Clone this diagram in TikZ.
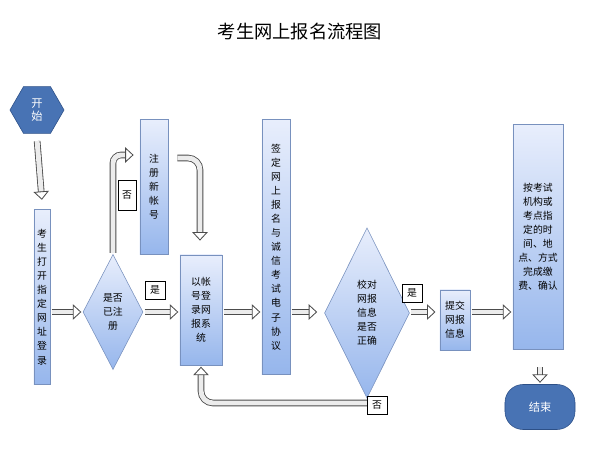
\documentclass[tikz,border=0pt]{standalone}
\usepackage{fontspec}
\setmainfont{Noto Sans CJK SC}
\usetikzlibrary{shapes.geometric,arrows.meta}
\definecolor{boxtop}{RGB}{232,238,252}
\definecolor{boxbot}{RGB}{150,182,236}
\definecolor{boxline}{RGB}{120,145,190}
\definecolor{capblue}{RGB}{72,115,180}
\definecolor{capline}{RGB}{45,80,135}
\tikzset{
  box/.style={draw=boxline,top color=boxtop,bottom color=boxbot,inner sep=1pt,align=center,font=\fontsize{7}{10}\selectfont},
  dia/.style={diamond,draw=boxline,top color=boxtop,bottom color=boxbot,inner sep=0pt,align=center,font=\fontsize{7}{10}\selectfont},
  tag/.style={draw,fill=white,inner sep=1pt,font=\fontsize{7}{9}\selectfont},
  blk/.style={draw=gray!60!black,double=gray!15,double distance=3.5pt,line width=0.6pt,-{Triangle[open,length=6pt,width=11pt]},shorten >=1pt,shorten <=1pt}
}
\begin{document}
\begin{tikzpicture}[x=0.025cm,y=-0.025cm]
	\useasboundingbox (0,0) rectangle (601,452);
	\draw (300,32) node [font=\fontsize{13}{15}\selectfont] (title) {考生网上报名流程图};
	\draw (37,110) node [regular polygon,regular polygon sides=6,draw=capline,fill=capblue,text=white,minimum size=1.35cm,inner sep=0pt,font=\fontsize{8}{9}\selectfont,align=center] (start) {开\\始};
	\draw (42,297) node [box,minimum width=0.4cm,minimum height=4.375cm] (open) {考\\生\\打\\开\\指\\定\\网\\址\\登\\录};
	\draw (113,312) node [dia,minimum width=1.5cm,minimum height=2.875cm] (reg) {是否\\已注\\册};
	\draw (154,187) node [box,minimum width=0.7cm,minimum height=3.375cm] (new) {注\\册\\新\\帐\\号};
	\draw (201,310) node [box,minimum width=1.05cm,minimum height=2.75cm] (login) {以帐\\号登\\录网\\报系\\统};
	\draw (276,247) node [box,minimum width=0.7cm,minimum height=6.375cm] (sign) {签\\定\\网\\上\\报\\名\\与\\诚\\信\\考\\试\\电\\子\\协\\议};
	\draw (367,313) node [dia,minimum width=1.875cm,minimum height=4.25cm] (check) {校对\\网报\\信息\\是否\\正确};
	\draw (455,320) node [box,minimum width=0.75cm,minimum height=1.5cm] (submit) {提交\\网报\\信息};
	\draw (538,237) node [box,minimum width=1.25cm,minimum height=5.625cm] (pay) {按考试\\机构或\\考点指\\定的时\\间、地\\点、方式\\完成缴\\费、确认};
	\draw (540,407) node [draw=capline,fill=capblue,text=white,rounded corners=0.45cm,minimum width=1.75cm,minimum height=1.125cm,font=\fontsize{8}{9}\selectfont] (end) {结束};
	\coordinate (row) at (0,312);
	\coordinate (regup) at (135,155);
	\coordinate (newout) at (176,158);
	\coordinate (newdown) at (200,242);
	\coordinate (checkout) at (370,403);
	\coordinate (payout) at (540,366);
	\draw[blk] ([yshift=-0.15cm]start.south) -- ([yshift=0.2cm]open.north);
	\draw[blk] (open.east |- row) -- (reg.west);
	\draw[blk] (reg.east) -- (login.west |- row);
	\draw[blk] (login.east |- row) -- (sign.west |- row);
	\draw[blk] (sign.east |- row) -- ([xshift=-4pt]check.west |- row);
	\draw[blk] (check.east |- row) -- ([xshift=-2pt]submit.west |- row);
	\draw[blk] (submit.east |- row) -- (pay.west |- row);
	\draw[blk] (payout) -- (end.north);
	\draw[blk,rounded corners=0.2cm] (reg.north) |- (regup);
	\draw[blk,rounded corners=0.3cm] (newout) -| (newdown);
	\draw[blk,rounded corners=0.3cm] (checkout) -| (login.south);
	\draw (127,195) node [tag,minimum width=0.45cm,minimum height=0.75cm] (no1) {否};
	\draw (155,290) node [tag,minimum width=0.5cm,minimum height=0.45cm] (yes1) {是};
	\draw (412,293) node [tag,minimum width=0.5cm,minimum height=0.45cm] (yes2) {是};
	\draw (377,405) node [tag,minimum width=0.5cm,minimum height=0.45cm] (no2) {否};
\end{tikzpicture}
\end{document}
